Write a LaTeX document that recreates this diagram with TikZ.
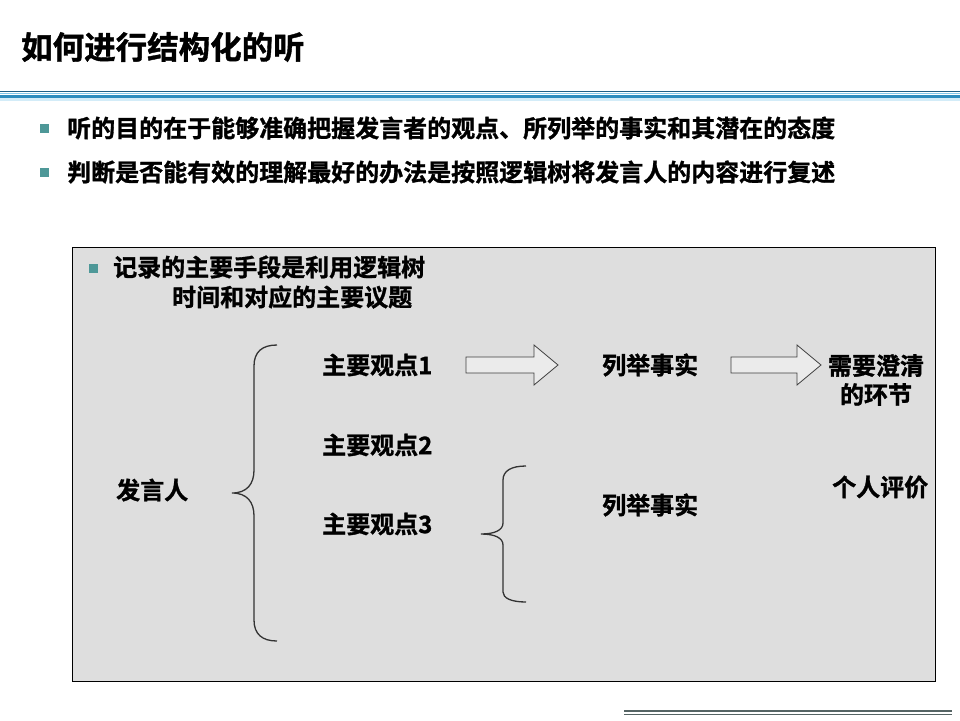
\documentclass[tikz,border=0pt]{standalone}
\usepackage{fontspec}
\setmainfont{Noto Sans CJK SC}[BoldFont={Noto Sans CJK SC Bold},BoldFeatures={FakeBold=1.2}]
\definecolor{teal}{RGB}{78,152,152}
\definecolor{boxgray}{RGB}{222,222,222}
\definecolor{linedark}{RGB}{30,95,135}
\definecolor{linelight}{RGB}{130,200,235}
\definecolor{lineblue}{RGB}{45,140,190}
\definecolor{footgray}{RGB}{85,100,100}
\begin{document}
\begin{tikzpicture}[x=1pt,y=-1pt,
  txt/.style={anchor=west,inner sep=0pt,font=\fontsize{24}{28}\selectfont\bfseries},
  ctxt/.style={anchor=center,inner sep=0pt,align=center,font=\fontsize{24}{29}\selectfont\bfseries},
  bul/.style={fill=teal,draw=none,minimum size=9pt,inner sep=0pt},
  bracestyle/.style={draw=black!80,line width=1.3pt},
  blockarrow/.style={draw=black!75,line width=0.8pt,fill=boxgray!60!white}]
\useasboundingbox (0,0) rectangle (960,720);
\fill[white] (0,0) rectangle (960,720);
% title
\node[anchor=west,inner sep=0pt,font=\fontsize{31.5}{36}\selectfont\bfseries] (title) at (21,47) {如何进行结构化的听};
% title rule
\fill[linelight!35] (0,96) rectangle (960,101);
\draw[linedark,line width=0.9pt] (0,91.5) -- (960,91.5);
\draw[linelight,line width=1.6pt] (0,93.4) -- (960,93.4);
\draw[lineblue,line width=2.8pt] (0,96.1) -- (960,96.1);
% bullets
\node[bul] (b1) at (44,128) {};
\node[txt] (t1) at (67,128) {听的目的在于能够准确把握发言者的观点、所列举的事实和其潜在的态度};
\node[bul] (b2) at (44,172) {};
\node[txt] (t2) at (67,172) {判断是否能有效的理解最好的办法是按照逻辑树将发言人的内容进行复述};
% grey box
\node[draw=black,line width=1.3pt,fill=boxgray,inner sep=0pt,minimum width=863pt,minimum height=434pt,anchor=north west] (box) at (72,247) {};
\node[bul] (b3) at (93,268) {};
\node[txt] (r1) at (113,267) {记录的主要手段是利用逻辑树};
\node[txt] (r2) at (172,297) {时间和对应的主要议题};
% tree nodes
\node[txt] (spk) at (116,490) {发言人};
\node[txt] (p1) at (322,365) {主要观点1};
\node[txt] (p2) at (322,445) {主要观点2};
\node[txt] (p3) at (322,524) {主要观点3};
\node[txt] (f1) at (602,365) {列举事实};
\node[txt] (f2) at (602,505) {列举事实};
\node[ctxt] (clar) at (876,380) {需要澄清\\的环节};
\node[txt] (eval) at (832,487) {个人评价};
% braces
\draw[bracestyle] (277,345) .. controls (262,345) and (254,352) .. (254,366) -- (254,470)
  .. controls (254,484) and (247,493) .. (232,493)
  .. controls (247,493) and (254,502) .. (254,516) -- (254,620)
  .. controls (254,634) and (262,641) .. (277,641);
\draw[bracestyle] (526,466) .. controls (511,466) and (503,471) .. (503,480) -- (503,523)
  .. controls (503,530) and (495,534) .. (481,534)
  .. controls (495,534) and (503,538) .. (503,545) -- (503,592)
  .. controls (503,598) and (511,602) .. (526,602);
% block arrows
\draw[blockarrow] (466,357) -- (534,357) -- (534,345) -- (558,365) -- (534,385) -- (534,373) -- (466,373) -- cycle;
\draw[blockarrow] (731,357) -- (797,357) -- (797,345) -- (821,365) -- (797,385) -- (797,373) -- (731,373) -- cycle;
% footer rule
\draw[footgray,line width=1.2pt] (624,711) -- (952,711);
\draw[footgray,line width=1.2pt] (624,714.5) -- (952,714.5);
\end{tikzpicture}
\end{document}
